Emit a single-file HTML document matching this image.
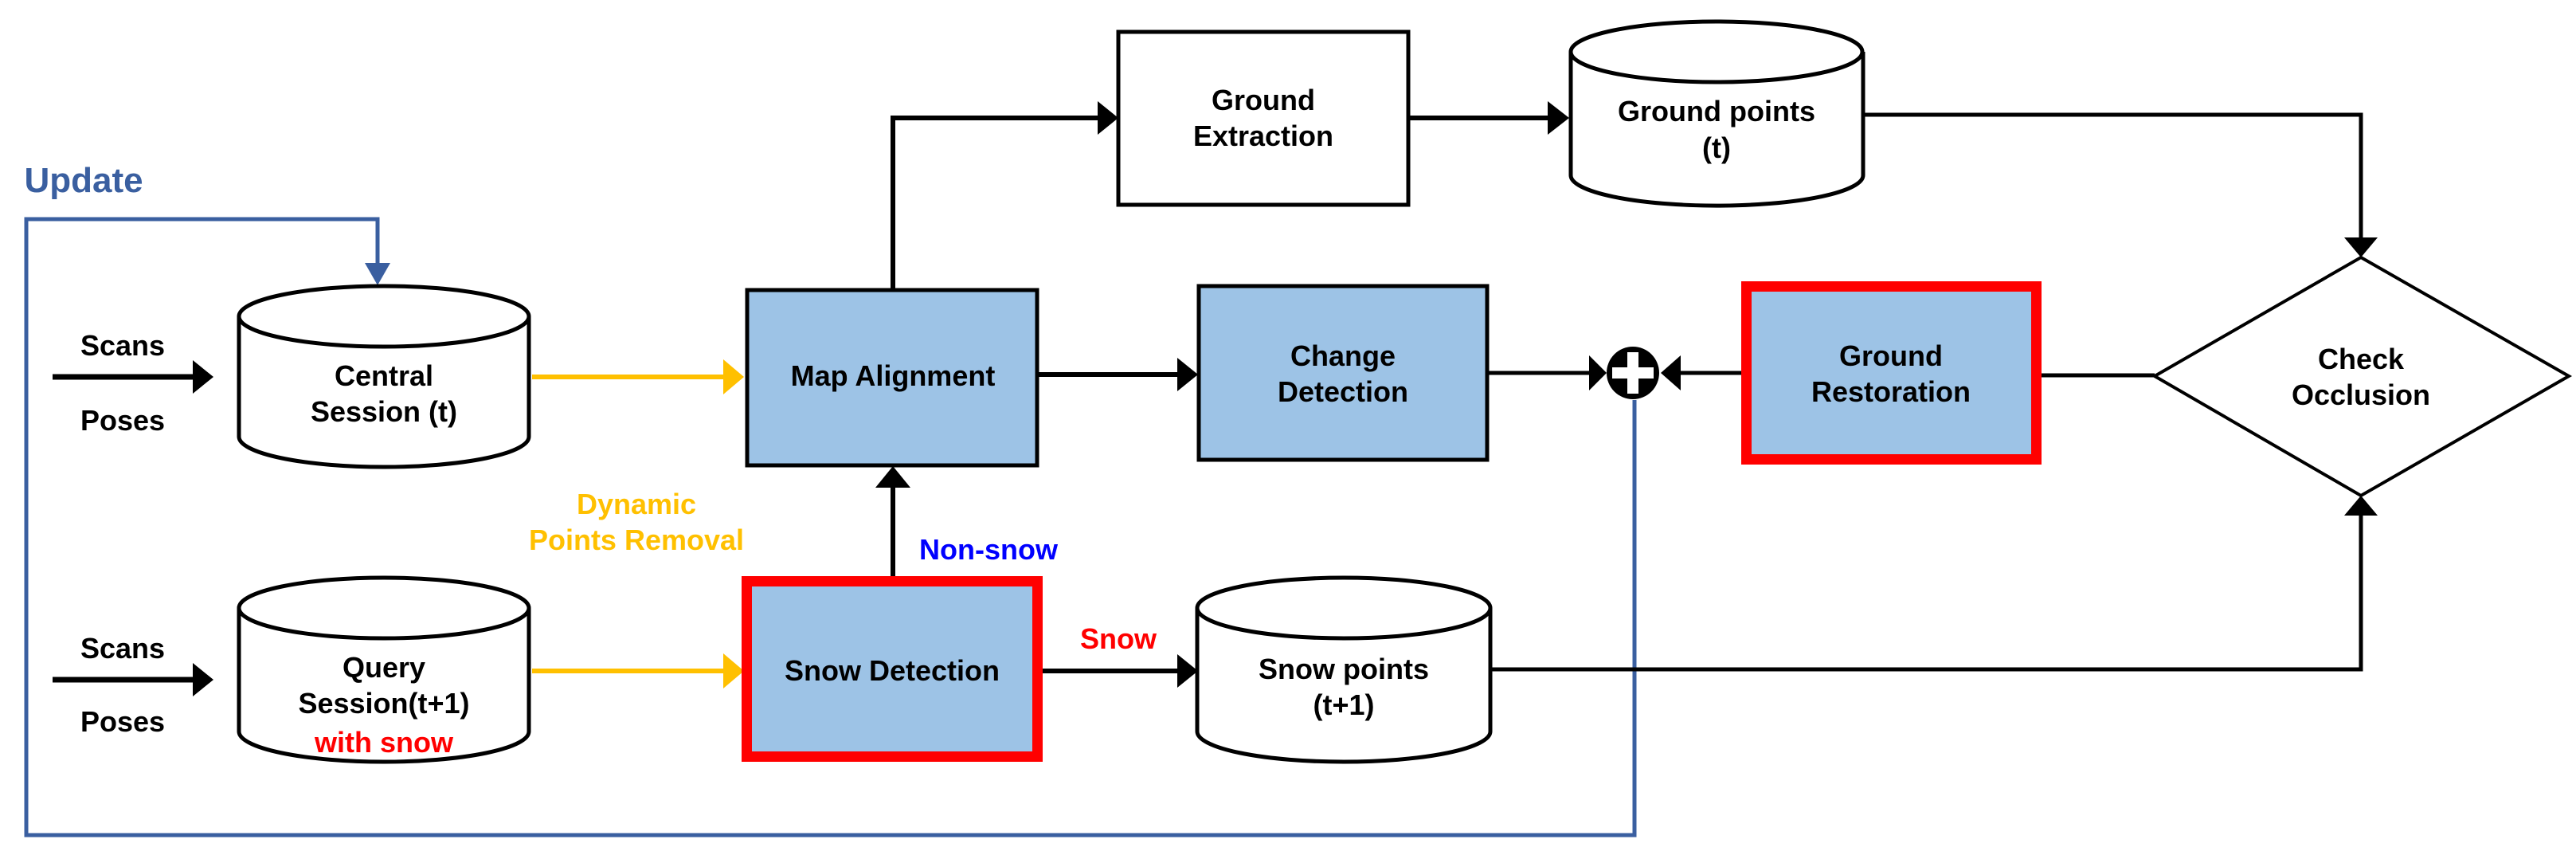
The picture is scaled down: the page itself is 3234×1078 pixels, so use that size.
<!DOCTYPE html>
<html><head><meta charset="utf-8"><style>
html,body{margin:0;padding:0;background:#fff;}
svg{display:block;}
text{font-family:"Liberation Sans",sans-serif;font-weight:bold;font-size:36px;text-anchor:middle;}
</style></head><body>
<svg width="3234" height="1078" viewBox="0 0 3234 1078" xmlns="http://www.w3.org/2000/svg">
<defs>
<marker id="ab" markerWidth="10" markerHeight="10" refX="10" refY="5" orient="auto" markerUnits="userSpaceOnUse" viewBox="0 0 10 10"><path d="M0,0 L10,5 L0,10z" fill="#000"/></marker>
</defs>
<g stroke-linejoin="miter">
<!-- Update blue loop -->
<path d="M2052,502 V1048 H33 V275 H474 V330" fill="none" stroke="#3A5FA0" stroke-width="5"/>
<path d="M458,330 L490,330 L474,358z" fill="#3A5FA0"/>

<!-- Scans/Poses arrows -->
<path d="M66,473 H245" stroke="#000" stroke-width="7"/>
<path d="M242,452 L268,473 L242,494z" fill="#000"/>
<path d="M66,853 H245" stroke="#000" stroke-width="7"/>
<path d="M242,832 L268,853 L242,874z" fill="#000"/>

<!-- Yellow arrows -->
<path d="M668,473 H910" stroke="#FFC000" stroke-width="6"/>
<path d="M908,451 L934,473 L908,495z" fill="#FFC000"/>
<path d="M668,842 H910" stroke="#FFC000" stroke-width="6"/>
<path d="M908,820 L934,842 L908,864z" fill="#FFC000"/>

<!-- Cylinders -->
<g fill="#fff" stroke="#000" stroke-width="5">
<path d="M300,397 V548 A182,38 0 0 0 664,548 V397"/>
<ellipse cx="482" cy="397" rx="182" ry="38"/>
<path d="M300,763 V918 A182,38 0 0 0 664,918 V763"/>
<ellipse cx="482" cy="763" rx="182" ry="38"/>
<path d="M1972,65 V220 A183,38 0 0 0 2339,220 V65"/>
<ellipse cx="2155" cy="65" rx="183" ry="38"/>
<path d="M1503,763 V918 A184,38 0 0 0 1871,918 V763"/>
<ellipse cx="1687" cy="763" rx="184" ry="38"/>
</g>

<!-- Boxes -->
<rect x="938" y="364" width="364" height="220" fill="#9DC3E6" stroke="#000" stroke-width="5"/>
<rect x="1505" y="359" width="362" height="218" fill="#9DC3E6" stroke="#000" stroke-width="5"/>
<rect x="1404" y="40" width="364" height="217" fill="#fff" stroke="#000" stroke-width="5"/>
<rect x="937.5" y="729.5" width="365" height="220" fill="#9DC3E6" stroke="#FF0000" stroke-width="13"/>
<rect x="2192.5" y="359.5" width="364" height="217" fill="#9DC3E6" stroke="#FF0000" stroke-width="13"/>
<!-- Diamond -->
<path d="M2964,323 L3225,472 L2964,622 L2705,472z" fill="#fff" stroke="#000" stroke-width="4"/>

<!-- Black connectors -->
<path d="M1304,470 H1480" stroke="#000" stroke-width="6"/>
<path d="M1478,449 L1504,470 L1478,491z" fill="#000"/>
<path d="M1121,362 V148 H1380" fill="none" stroke="#000" stroke-width="6"/>
<path d="M1378,127 L1404,148 L1378,169z" fill="#000"/>
<path d="M1769,148 H1945" stroke="#000" stroke-width="6"/>
<path d="M1943,127 L1970,148 L1943,169z" fill="#000"/>
<path d="M2339,144 H2964 V300" fill="none" stroke="#000" stroke-width="5"/>
<path d="M2943,298 L2985,298 L2964,323z" fill="#000"/>
<path d="M1871,840 H2964 V645" fill="none" stroke="#000" stroke-width="5"/>
<path d="M2943,647 L2985,647 L2964,622z" fill="#000"/>
<path d="M2563,471 H2705" stroke="#000" stroke-width="5"/>
<path d="M1121,723 V605" stroke="#000" stroke-width="6"/>
<path d="M1099,612 L1143,612 L1121,585z" fill="#000"/>
<path d="M1309,842 H1480" stroke="#000" stroke-width="6"/>
<path d="M1478,821 L1504,842 L1478,863z" fill="#000"/>
<!-- Plus junction -->
<path d="M1868,468 H2000" stroke="#000" stroke-width="5"/>
<path d="M1995,446 L2017,468 L1995,490z" fill="#000"/>
<path d="M2186,468 H2100" stroke="#000" stroke-width="5"/>
<path d="M2110,446 L2085,468 L2110,490z" fill="#000"/>
<circle cx="2050" cy="468" r="33" fill="#000"/>
<path d="M2050,442 V494 M2024,468 H2076" stroke="#fff" stroke-width="14"/>
</g>

<!-- Text -->
<text x="105" y="241" fill="#3A5FA0" font-size="44" style="font-size:44px">Update</text>
<text x="154" y="446">Scans</text>
<text x="154" y="540">Poses</text>
<text x="154" y="826">Scans</text>
<text x="154" y="918">Poses</text>
<text x="482" y="484">Central</text>
<text x="482" y="529">Session (t)</text>
<text x="482" y="850">Query</text>
<text x="482" y="895">Session(t+1)</text>
<text x="482" y="944" fill="#FF0000">with snow</text>
<text x="799" y="645" fill="#FFC000">Dynamic</text>
<text x="799" y="690" fill="#FFC000">Points Removal</text>
<text x="1121" y="484">Map Alignment</text>
<text x="1120" y="854">Snow Detection</text>
<text x="1241" y="702" fill="#0000FF">Non-snow</text>
<text x="1404" y="814" fill="#FF0000">Snow</text>
<text x="1686" y="459">Change</text>
<text x="1686" y="504">Detection</text>
<text x="1586" y="138">Ground</text>
<text x="1586" y="183">Extraction</text>
<text x="2155" y="152">Ground points</text>
<text x="2155" y="198">(t)</text>
<text x="1687" y="852">Snow points</text>
<text x="1687" y="897">(t+1)</text>
<text x="2374" y="459">Ground</text>
<text x="2374" y="504">Restoration</text>
<text x="2964" y="463">Check</text>
<text x="2964" y="508">Occlusion</text>
</svg>
</body></html>
